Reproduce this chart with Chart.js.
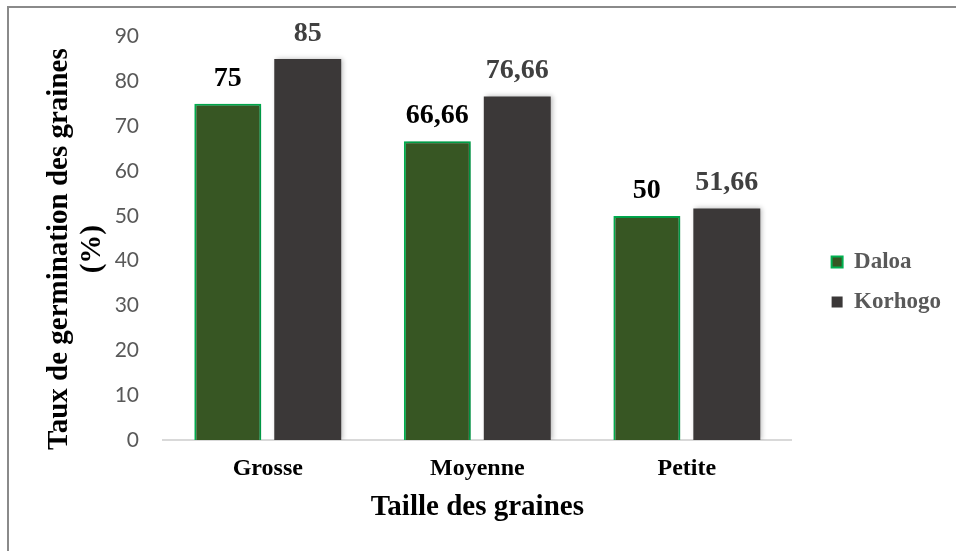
<!DOCTYPE html>
<html>
<head>
<meta charset="utf-8">
<script src="https://cdn.jsdelivr.net/npm/chart.js@4"></script>
<style>
  body { margin:0; background:#fff; }
  #wrap { position:relative; width:956px; height:551px; }
  #cadre { position:absolute; left:7px; top:6px; right:-10px; bottom:-10px; border-left:2px solid #8a8a8a; border-top:2px solid #8a8a8a; pointer-events:none; }
</style>
</head>
<body>
<div id="wrap">
  <canvas id="graphique" width="956" height="551"></canvas>
  <div id="cadre"></div>
</div>
<script>
// données
const tailles = ['Grosse', 'Moyenne', 'Petite'];
const daloa = [75, 66.66, 50];
const korhogo = [85, 76.66, 51.66];
const graduations = [0, 10, 20, 30, 40, 50, 60, 70, 80, 90];

const serif = "'Liberation Serif', 'Times New Roman', serif";
// le titre vertical est un peu plus bas que le centre de la zone
const decale = '\u00a0\u00a0\u00a0';

// étiquettes de valeur au-dessus des barres
const etiquettes = {
  id: 'etiquettes',
  afterDatasetsDraw(chart) {
    const ctx = chart.ctx;
    ctx.save();
    ctx.font = 'bold 28px ' + serif;
    ctx.textAlign = 'center';
    ctx.textBaseline = 'alphabetic';
    chart.data.datasets.forEach((ds, i) => {
      const meta = chart.getDatasetMeta(i);
      ctx.fillStyle = i === 0 ? '#000000' : '#404040';
      meta.data.forEach((bar, j) => {
        ctx.fillText(String(ds.data[j]).replace('.', ','), bar.x, bar.y - 18);
      });
    });
    ctx.restore();
  }
};

// ombre légère des barres
const ombre = {
  id: 'ombre',
  beforeDatasetsDraw(chart) {
    const ctx = chart.ctx;
    ctx.save();
    ctx.shadowColor = 'rgba(0,0,0,0.28)';
    ctx.shadowBlur = 5;
    ctx.shadowOffsetX = 2;
    ctx.shadowOffsetY = 0;
  },
  afterDatasetsDraw(chart) { chart.ctx.restore(); }
};

new Chart(document.getElementById('graphique').getContext('2d'), {
  type: 'bar',
  data: {
    labels: tailles,
    datasets: [{
      label: 'Daloa',
      data: daloa,
      backgroundColor: '#375623',
      borderColor: '#00b050',
      borderWidth: 2
    }, {
      label: 'Korhogo',
      data: korhogo,
      backgroundColor: '#3b3838',
      borderColor: '#3b3838',
      borderWidth: 0
    }]
  },
  options: {
    responsive: false,
    animation: false,
    categoryPercentage: 0.763,
    barPercentage: 0.8375,
    layout: { padding: { left: 0, right: 5, top: 36, bottom: 23 } },
    scales: {
      x: {
        grid: { display: false, drawTicks: false },
        border: { display: true, color: '#d9d9d9', width: 2 },
        ticks: { color: '#000', padding: 14, font: { family: serif, size: 24, weight: 'bold' } },
        title: { display: true, text: 'Taille des graines', color: '#000', padding: { top: 0, bottom: 3 },
                 font: { family: serif, size: 29, weight: 'bold' } },
        afterFit: s => { s.height = 88; }
      },
      y: {
        min: 0, max: 90,
        grid: { display: false, drawTicks: false },
        border: { display: false },
        afterBuildTicks: s => { s.ticks = graduations.map(v => ({ value: v })); },
        ticks: { color: '#595959', padding: 24, font: { family: 'Lato', size: 21 } },
        title: { display: true, text: ['Taux de germination des graines' + decale, '(%)' + decale], color: '#000',
                 padding: { top: 43, bottom: 0 },
                 font: { family: serif, size: 29, weight: 'bold', lineHeight: 1.14 } },
        afterFit: s => { s.width = 163; }
      },
      espace: {
        position: 'right',
        display: true,
        grid: { display: false, drawTicks: false },
        border: { display: false },
        ticks: { display: false },
        afterFit: s => { s.width = 23; }
      }
    },
    plugins: {
      legend: {
        position: 'right',
        labels: {
          color: '#595959',
          boxWidth: 11, boxHeight: 11,
          padding: 17,
          font: { family: serif, size: 23, weight: 'bold' }
        }
      },
      tooltip: { enabled: false }
    }
  },
  plugins: [ombre, etiquettes]
});
</script>
</body>
</html>
